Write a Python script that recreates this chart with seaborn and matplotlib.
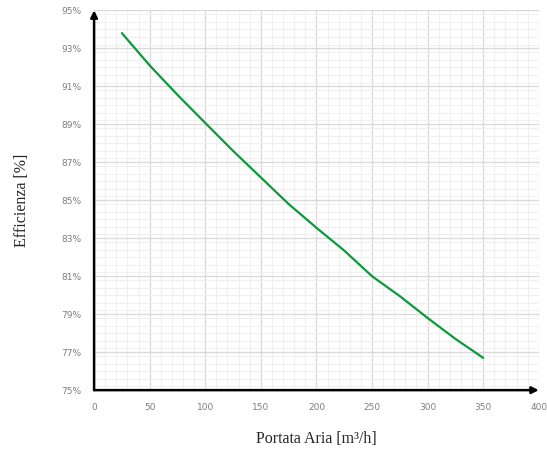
import matplotlib
matplotlib.use("Agg")
import matplotlib.pyplot as plt
from matplotlib.ticker import MultipleLocator, FuncFormatter
import seaborn as sns
import pandas as pd

# Portata aria [m3/h] and efficienza [%]
portata = [25, 50, 75, 100, 125, 150, 175, 200, 225, 250, 275, 300, 325, 350]
efficienza = [93.8, 92.1, 90.55, 89.07, 87.6, 86.2, 84.8, 83.55, 82.35,
              81.0, 79.95, 78.8, 77.7, 76.7]

sns.set_style("white")
plt.rcParams["font.family"] = ["DejaVu Sans"]

df = pd.DataFrame({"portata": portata, "efficienza": efficienza})

fig = plt.figure(figsize=(5.47, 4.5), dpi=100)
ax = fig.add_axes([0.172, 0.133, 0.813, 0.844])

# grid first, so the curve sits on top
ax.xaxis.set_major_locator(MultipleLocator(50))
ax.xaxis.set_minor_locator(MultipleLocator(10))
ax.yaxis.set_major_locator(MultipleLocator(2))
ax.yaxis.set_minor_locator(MultipleLocator(0.4))
ax.grid(which="major", color="#d9d9d9", linewidth=0.9)
ax.grid(which="minor", color="#f0f0f0", linewidth=0.8)
ax.set_axisbelow(True)

sns.lineplot(data=df, x="portata", y="efficienza", ax=ax,
             color="#0a9a3c", linewidth=1.6)

ax.set_xlim(0, 400)
ax.set_ylim(75, 95)
ax.set_yticks([75, 77, 79, 81, 83, 85, 87, 89, 91, 93, 95])
ax.yaxis.set_major_formatter(FuncFormatter(lambda v, _: f"{v:.0f}%"))
ax.tick_params(axis="both", which="both", length=0, labelsize=6.5,
               labelcolor="#7f7f7f")
ax.tick_params(axis="x", pad=9)
ax.tick_params(axis="y", pad=9)

for s in ax.spines.values():
    s.set_visible(False)

# axis arrows
arrow = dict(arrowstyle="-|>", color="black", lw=1.8, mutation_scale=10,
             shrinkA=0, shrinkB=0)
ax.annotate("", xy=(0, 1.0), xytext=(0, 0), xycoords="axes fraction",
            arrowprops=arrow, annotation_clip=False)
ax.annotate("", xy=(1.0, 0), xytext=(0, 0), xycoords="axes fraction",
            arrowprops=arrow, annotation_clip=False)

ax.set_xlabel("Portata Aria [m³/h]", family=["Liberation Serif"],
              fontsize=11.5, labelpad=14)
ax.set_ylabel("Efficienza [%]", family=["Liberation Serif"],
              fontsize=11.5, labelpad=23)

fig.savefig("out.png", dpi=100)
